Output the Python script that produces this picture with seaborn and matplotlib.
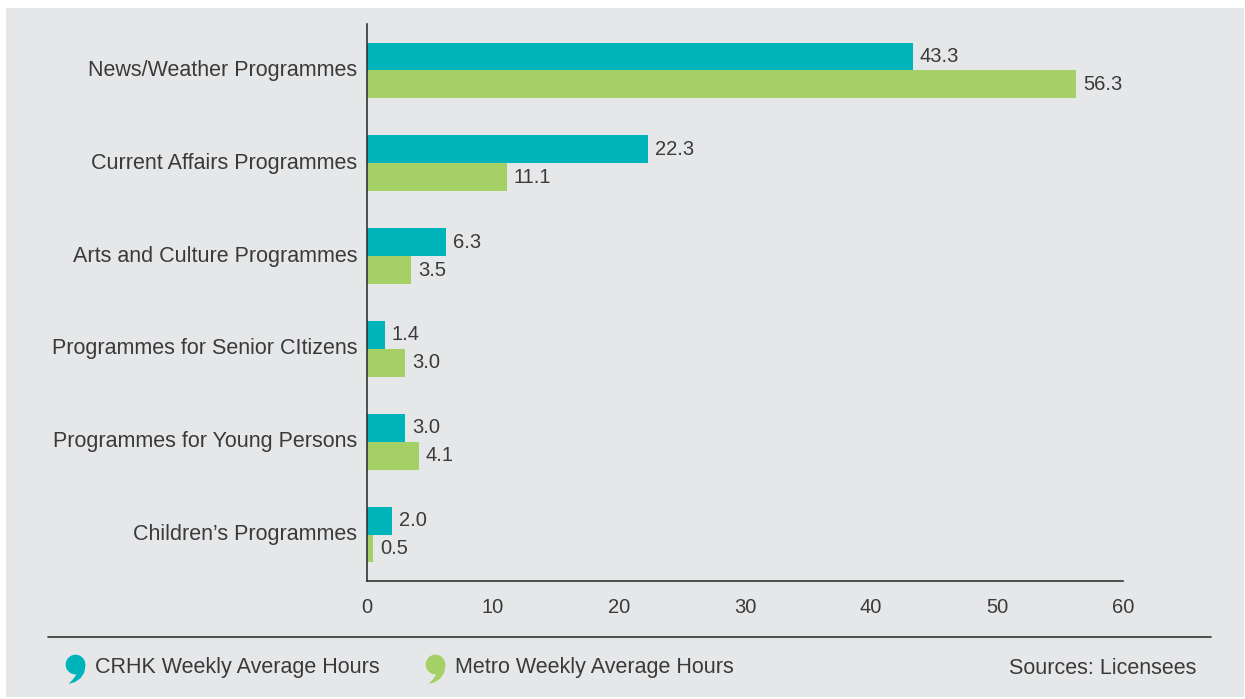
import numpy as np
import pandas as pd
import matplotlib
matplotlib.use("Agg")
import matplotlib.pyplot as plt
import seaborn as sns
from matplotlib.path import Path
from matplotlib.patches import Rectangle
from matplotlib.lines import Line2D

categories = ["News/Weather Programmes", "Current Affairs Programmes",
              "Arts and Culture Programmes", "Programmes for Senior CItizens",
              "Programmes for Young Persons", "Children\u2019s Programmes"]
crhk = [43.3, 22.3, 6.3, 1.4, 3.0, 2.0]
metro = [56.3, 11.1, 3.5, 3.0, 4.1, 0.5]
series = ["CRHK Weekly Average Hours", "Metro Weekly Average Hours"]
colors = ["#00B4BB", "#A4D065"]
xticks = [0, 10, 20, 30, 40, 50, 60]

df = pd.DataFrame({
    "category": categories * 2,
    "hours": crhk + metro,
    "series": [series[0]] * len(categories) + [series[1]] * len(categories),
})

sns.set_theme(style="white")
plt.rcParams['font.family'] = ['Liberation Sans', 'DejaVu Sans']
txt = "#3a3a3a"
bg = "#E6E7E9"

fig = plt.figure(figsize=(12.45, 6.99), dpi=100)
fig.patch.set_facecolor("white")
fig.patches.append(Rectangle((6/1245, 2/699), 1238/1245, 689/699,
                             transform=fig.transFigure, facecolor=bg,
                             edgecolor="none", zorder=-10))

ax = fig.add_axes([367/1245, 1-581/699, (1123-367)/1245, (581-24)/699])
ax.set_facecolor("none")
sns.barplot(data=df, y="category", x="hours", hue="series", order=categories,
            hue_order=series, palette=colors, width=0.6, orient="h",
            saturation=1, linewidth=0, ax=ax, legend=False)
for c in ax.containers:
    ax.bar_label(c, fmt="%.1f", padding=5, fontsize=14.5, color=txt)

ax.set_xlim(0, 60)
ax.set_ylim(5.5, -0.5)
ax.set_xticks(xticks)
ax.set_xticklabels([str(t) for t in xticks])
ax.set_xlabel("")
ax.set_ylabel("")
ax.tick_params(axis="x", length=0, pad=12, labelsize=14.5, colors=txt)
ax.tick_params(axis="y", length=0, pad=7, labelsize=15.5, colors=txt)
for lbl in ax.get_yticklabels():
    lbl.set_va("center")
for s in ["top", "right"]:
    ax.spines[s].set_visible(False)
for s in ["left", "bottom"]:
    ax.spines[s].set_color("#333333")
    ax.spines[s].set_linewidth(1.2)

# separator line
fig.add_artist(Line2D([48/1245, 1211/1245], [1-637/699, 1-637/699],
                      transform=fig.transFigure, color="#333333", lw=1.2))

# comma-shaped marker (both sub-paths counter-clockwise)
theta = np.linspace(0, 2*np.pi, 40)
circ = np.column_stack([np.cos(theta), np.sin(theta) + 0.4])
tail = np.array([[1.0, 0.4], [0.9, -0.4], [0.5, -1.0], [-0.1, -1.4],
                 [-0.7, -1.55], [-0.3, -1.15], [0.0, -0.75], [0.1, -0.5],
                 [0.0, 0.0]])[::-1]
tail = np.vstack([tail, tail[:1]])
verts = np.vstack([circ, tail])
codes = ([Path.MOVETO] + [Path.LINETO]*(len(circ)-2) + [Path.CLOSEPOLY] +
         [Path.MOVETO] + [Path.LINETO]*(len(tail)-2) + [Path.CLOSEPOLY])
comma = Path(verts, codes)

ly = 1 - 668/699
for xm, xt, col, lab in [(75, 95, colors[0], series[0]), (435, 455, colors[1], series[1])]:
    fig.add_artist(Line2D([xm/1245], [ly], marker=comma, markersize=22,
                          color=col, markeredgewidth=0, transform=fig.transFigure))
    fig.text(xt/1245, ly, lab, ha="left", va="center", fontsize=15.5, color=txt)
fig.text(1196/1245, ly, "Sources: Licensees", ha="right", va="center",
         fontsize=15.5, color=txt)

fig.savefig("out.png", dpi=100, facecolor="white")
